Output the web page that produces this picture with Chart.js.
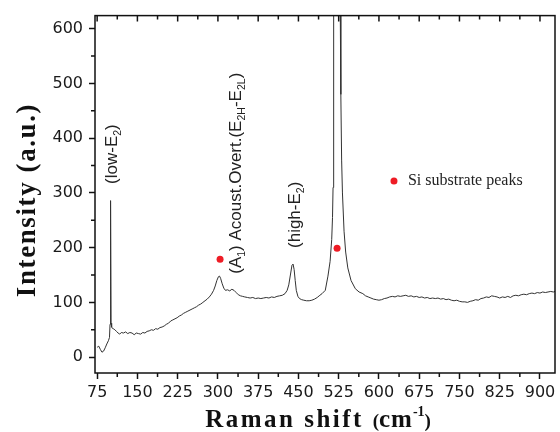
<!DOCTYPE html>
<html>
<head>
<meta charset="utf-8">
<script src="https://cdn.jsdelivr.net/npm/chart.js@4.4.0/dist/chart.umd.min.js"></script>
<style>
    html, body { margin: 0; padding: 0; background: #fff; }
    #wrap { width: 560px; height: 432px; }
</style>
</head>
<body>
<div id="wrap"><canvas id="ramanChart" width="560" height="432"></canvas></div>
<script>
// Raman spectrum (shift in cm-1, intensity in a.u.)
const ramanShift = [
    75, 78, 81, 84, 87, 90, 93, 96, 98, 99, 100, 101, 102, 103, 105, 108, 111, 114, 117, 120,
    124, 128, 132, 136, 140, 144, 148, 152, 156, 160, 164, 168, 172, 176, 180, 184, 188, 192, 196, 200,
    204, 208, 212, 216, 220, 224, 228, 232, 236, 240, 244, 248, 252, 256, 260, 264, 268, 272, 276, 280,
    284, 288, 292, 295, 298, 301, 303, 305, 308, 311, 314, 318, 322, 326, 330, 334, 338, 342, 346, 350,
    355, 360, 365, 370, 375, 380, 385, 390, 395, 400, 405, 410, 415, 420, 425, 429, 432, 435, 438, 440,
    442, 444, 446, 449, 452, 456, 460, 465, 470, 475, 480, 485, 490, 494, 500, 505, 509, 512, 513.5, 514.5,
    515.3, 516, 522, 528, 529, 530.5, 532, 535, 538, 542, 548, 556, 563, 570, 575, 580, 585,
    590, 595, 600, 605, 610, 615, 620, 625, 630, 635, 640, 645, 650, 655, 660, 665, 670, 675, 680, 685,
    690, 695, 700, 705, 710, 715, 720, 725, 730, 735, 740, 745, 750, 755, 760, 765, 770, 775, 780, 785,
    790, 795, 800, 805, 810, 815, 820, 825, 830, 835, 840, 845, 850, 855, 860, 865, 870, 875, 880, 885,
    890, 895, 900, 905, 910, 915, 920, 925, 928
];
const intensity = [
    18, 20, 14, 9, 11, 17, 24, 30, 36, 60, 286, 62, 55, 53, 52, 50, 47, 44, 42, 45,
    44, 46, 43, 45, 44, 41, 44, 43, 42, 45, 44, 47, 48, 50, 49, 52, 51, 54, 55, 57,
    60, 62, 66, 68, 70, 72, 75, 77, 80, 82, 84, 86, 88, 90, 92, 95, 97, 100, 103, 106,
    110, 115, 122, 130, 140, 147, 148, 144, 134, 126, 122, 123, 121, 124, 122, 118, 114, 112, 111, 110,
    109, 108, 109, 107, 108, 107, 108, 109, 108, 110, 109, 111, 112, 113, 116, 122, 132, 150, 168, 170,
    160, 140, 122, 111, 107, 105, 104, 103, 103, 104, 106, 109, 113, 116, 122, 148, 175, 215, 255, 310,
    420, 624, 3500, 624, 480, 360, 300, 230, 192, 163, 140, 125, 119, 116, 112, 110, 108,
    106, 105, 104, 105, 107, 108, 110, 111, 110, 112, 111, 112, 113, 111, 112, 110, 111, 109, 110, 108,
    109, 107, 108, 107, 108, 106, 107, 105, 106, 104, 103, 104, 102, 101, 101, 100, 102, 103, 105, 104,
    107, 108, 110, 109, 112, 111, 110, 108, 110, 109, 111, 109, 112, 113, 112, 114, 115, 114, 116, 117,
    116, 118, 117, 119, 118, 119, 120, 119, 120
];

// Si substrate peak markers
const siPeakShift = [304, 522];
const siPeakIntensity = [179, 199];

// axis ticks
const xTicks = [75, 150, 225, 300, 375, 450, 525, 600, 675, 750, 825, 900];
const xMinor = [112.5, 187.5, 262.5, 337.5, 412.5, 487.5, 562.5, 637.5, 712.5, 787.5, 862.5];
const yTicks = [0, 100, 200, 300, 400, 500, 600];
const yMinor = [50, 150, 250, 350, 450, 550];

// peak labels, anchored in data coordinates (centre of the rotated text)
const peakLabels = [
    { x: 104, y: 371, parts: [['(low-E'], ['2', 'sub'], [')']] },
    { x: 335, y: 336, parts: [['(A'], ['1', 'sub'], [') Acoust.Overt.(E'], ['2H', 'sub'], ['-E'], ['2L', 'sub'], [')']] },
    { x: 445, y: 260, parts: [['(high-E'], ['2', 'sub'], [')']] }
];
const legendPos = { x: 628, y: 322, text: 'Si substrate peaks' };

const spectrum = ramanShift.map((v, i) => ({ x: v, y: intensity[i] }));
const siPoints = siPeakShift.map((v, i) => ({ x: v, y: siPeakIntensity[i] }));

// draw a run of text pieces (with optional sub/superscripts) centred on x,y
function drawRich(ctx, x, y, parts, opts) {
    const size = opts.size;
    const fam = opts.family;
    const weight = opts.weight || 'normal';
    const fontFor = p => {
        const s = p.size || (p.sub || p.sup ? size * 0.62 : size);
        return weight + ' ' + s + 'px ' + fam;
    };
    ctx.save();
    ctx.translate(x, y);
    if (opts.rotate) ctx.rotate(-Math.PI / 2);
    ctx.textBaseline = opts.baseline || 'middle';
    ctx.fillStyle = opts.color || '#222';
    let total = 0;
    parts.forEach(p => {
        ctx.font = fontFor(p);
        ctx.letterSpacing = (p.spacing || 0) + 'px';
        p.w = ctx.measureText(p.t).width;
        total += p.w;
    });
    let cx = opts.align === 'left' ? 0 : -total / 2;
    parts.forEach(p => {
        ctx.font = fontFor(p);
        ctx.letterSpacing = (p.spacing || 0) + 'px';
        let dy = 0;
        if (p.sub) dy = size * 0.3;
        if (p.sup) dy = -size * 0.38;
        if (p.dy) dy = p.dy;
        ctx.fillText(p.t, cx, dy);
        cx += p.w;
    });
    ctx.restore();
}

const decorations = {
    id: 'decorations',
    afterDraw(chart) {
        const { ctx, chartArea: a, scales: { x, y } } = chart;
        ctx.save();
        ctx.strokeStyle = '#111';
        ctx.lineWidth = 1.5;
        ctx.strokeRect(a.left, a.top, a.right - a.left, a.bottom - a.top);

        ctx.beginPath();
        // minor ticks, bottom (outward) and left (outward)
        xMinor.forEach(v => {
            const px = x.getPixelForValue(v);
            ctx.moveTo(px, a.bottom);
            ctx.lineTo(px, a.bottom + 4);
        });
        yMinor.forEach(v => {
            const py = y.getPixelForValue(v);
            ctx.moveTo(a.left, py);
            ctx.lineTo(a.left - 4, py);
        });
        // mirrored ticks on the top axis, pointing inward
        xTicks.forEach(v => {
            const px = x.getPixelForValue(v);
            ctx.moveTo(px, a.top);
            ctx.lineTo(px, a.top + 6);
        });
        xMinor.forEach(v => {
            const px = x.getPixelForValue(v);
            ctx.moveTo(px, a.top);
            ctx.lineTo(px, a.top + 4);
        });
        ctx.stroke();
        ctx.restore();

        // peak labels
        peakLabels.forEach(l => {
            const parts = l.parts.map(p => ({ t: p[0], sub: p[1] === 'sub' }));
            drawRich(ctx, x.getPixelForValue(l.x), y.getPixelForValue(l.y), parts,
                { size: 17, family: '"Liberation Sans", Arial, sans-serif', rotate: true, color: '#222' });
        });

        // legend marker and text
        const lx = x.getPixelForValue(legendPos.x);
        const ly = y.getPixelForValue(legendPos.y);
        ctx.save();
        ctx.fillStyle = '#ee1c25';
        ctx.beginPath();
        ctx.arc(lx, ly, 3.5, 0, Math.PI * 2);
        ctx.fill();
        ctx.restore();
        drawRich(ctx, lx + 14, ly, [{ t: legendPos.text }],
            { size: 16, family: '"Liberation Serif", "Times New Roman", serif', align: 'left', color: '#222' });

        // axis titles
        drawRich(ctx, 318, 427, [
            { t: 'Raman shift ', spacing: 2.5 },
            { t: '(', size: 19 },
            { t: 'cm', spacing: 1 },
            { t: '-1', size: 14, dy: -11 },
            { t: ')', size: 19 }
        ], { size: 25, family: '"Liberation Serif", "Times New Roman", serif', weight: 'bold', baseline: 'alphabetic', color: '#111' });

        drawRich(ctx, 35, 200, [{ t: 'Intensity (a.u.)', spacing: 1.6 }],
            { size: 27, family: '"Liberation Serif", "Times New Roman", serif', weight: 'bold', rotate: true, baseline: 'alphabetic', color: '#111' });
    }
};

const tickFont = { family: '"DejaVu Sans", sans-serif', size: 16 };

new Chart(document.getElementById('ramanChart').getContext('2d'), {
    type: 'scatter',
    data: {
        datasets: [
            {
                label: 'Si substrate peaks',
                data: siPoints,
                pointRadius: 3.5,
                pointBackgroundColor: '#ee1c25',
                pointBorderWidth: 0,
                showLine: false
            },
            {
                label: 'Spectrum',
                data: spectrum,
                showLine: true,
                borderColor: '#333',
                borderWidth: 1,
                pointRadius: 0,
                tension: 0
            }
        ]
    },
    options: {
        responsive: false,
        animation: false,
        layout: { padding: { top: 12, right: 5, left: 0, bottom: 0 } },
        plugins: {
            legend: { display: false },
            tooltip: { enabled: false }
        },
        scales: {
            x: {
                type: 'linear',
                min: 71,
                max: 928,
                afterBuildTicks: scale => { scale.ticks = xTicks.map(v => ({ value: v })); },
                afterFit: scale => { scale.height = 59; },
                grid: { drawOnChartArea: false, drawTicks: true, tickLength: 6, tickColor: '#111', tickWidth: 1.5 },
                border: { display: false },
                ticks: { font: tickFont, color: '#1a1a1a', padding: 4, maxRotation: 0, autoSkip: false }
            },
            y: {
                type: 'linear',
                min: -29,
                max: 624,
                afterBuildTicks: scale => { scale.ticks = yTicks.map(v => ({ value: v })); },
                afterFit: scale => { scale.width = 95; },
                grid: { drawOnChartArea: false, drawTicks: true, tickLength: 6, tickColor: '#111', tickWidth: 1.5 },
                border: { display: false },
                ticks: { font: tickFont, color: '#1a1a1a', padding: 6 }
            }
        }
    },
    plugins: [decorations]
});
</script>
</body>
</html>
